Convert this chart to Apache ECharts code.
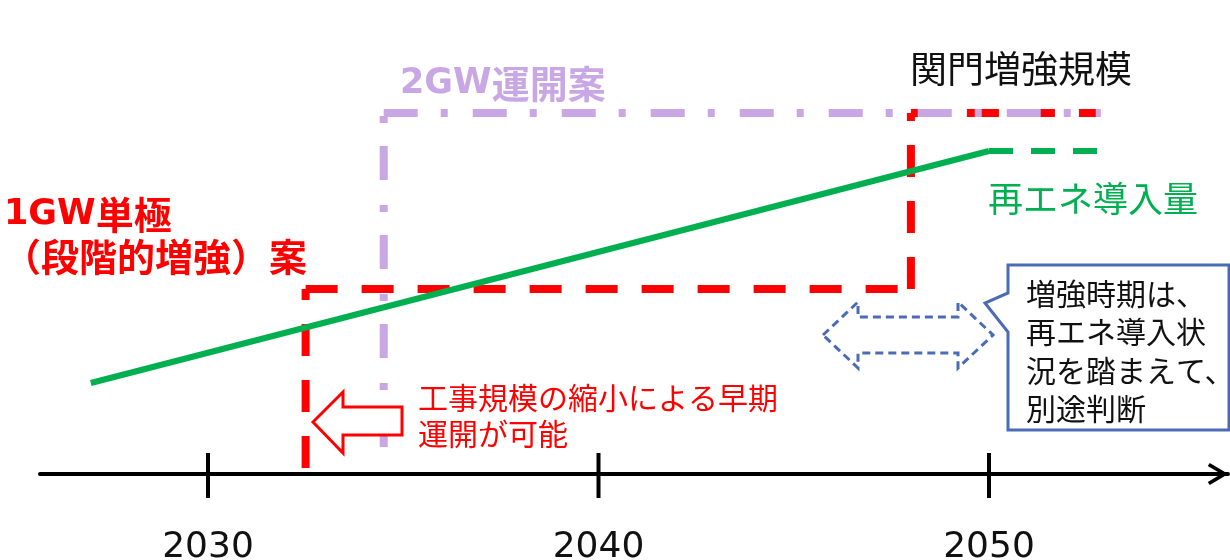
<!DOCTYPE html>
<html>
<head>
<meta charset="utf-8">
<script src="https://cdn.jsdelivr.net/npm/echarts@6/dist/echarts.min.js"></script>
<style>
  html, body { margin: 0; padding: 0; background: #ffffff; }
  #chart { width: 1230px; height: 560px; }
</style>
</head>
<body>
<div id="chart"></div>
<script>
// Timeline years shown on the axis
const tickYears = [2030, 2040, 2050];
const tickLabels = ['2030', '2040', '2050'];

// 1GW monopole (staged reinforcement) plan: step outline, year / level
const plan1Years = [2032.5, 2032.5, 2048, 2048, 2052.85];
const plan1Levels = [1.5, 46.25, 46.25, 90.25, 90.25];

// 2GW commissioning plan: outline, year / level
const plan2Years = [2034.5, 2034.5, 2052.85];
const plan2Levels = [6.75, 90.25, 90.25];

// Renewable energy introduction: trend up to 2050, outlook after
const reYears = [2027, 2050];
const reLevels = [22.75, 80.75];
const reOutlookYears = [2050, 2052.77];
const reOutlookLevels = [80.75, 80.75];

const RED = '#FF0000';
const PURPLE = '#C9A7E4';
const GREEN = '#00B050';
const BLUE = '#4A6BB5';
const JP = '"Noto Sans CJK JP", "Noto Sans CJK SC", sans-serif';
const LATIN = '"DejaVu Sans", "Noto Sans CJK JP", sans-serif';

function pts(xs, ys) {
  return xs.map((x, i) => [x, ys[i]]);
}

// Each straight leg is drawn as its own line so the dash pattern restarts per leg
function legSeries(name, xs, ys, lineStyle, z) {
  const p = pts(xs, ys);
  const out = [];
  for (let i = 0; i < p.length - 1; i++) {
    out.push({
      name: name,
      type: 'line',
      data: [p[i], p[i + 1]],
      showSymbol: false,
      symbol: 'none',
      silent: true,
      z: z,
      lineStyle: Object.assign({ cap: 'butt', join: 'miter' }, lineStyle)
    });
  }
  return out;
}

const series = [].concat(
  legSeries('1GW単極（段階的増強）案', plan1Years, plan1Levels,
    { color: RED, width: 8, type: [32, 24] }, 2),
  legSeries('2GW運開案', plan2Years, plan2Levels,
    { color: PURPLE, width: 8, type: [34, 23, 7, 25] }, 3),
  [{
    name: '再エネ導入量',
    type: 'line',
    data: pts(reYears, reLevels),
    showSymbol: false,
    symbol: 'none',
    silent: true,
    z: 4,
    lineStyle: { color: GREEN, width: 6, cap: 'butt' }
  }, {
    name: '再エネ導入量（見通し）',
    type: 'line',
    data: pts(reOutlookYears, reOutlookLevels),
    showSymbol: false,
    symbol: 'none',
    silent: true,
    z: 4,
    lineStyle: { color: GREEN, width: 6, type: [24, 18], cap: 'butt' }
  }, {
    // tick marks crossing the time axis
    name: 'ticks',
    type: 'custom',
    coordinateSystem: 'cartesian2d',
    silent: true,
    z: 5,
    encode: { x: 0, y: 1 },
    data: tickYears.map(y => [y, 0]),
    renderItem: function (params, api) {
      const p = api.coord([api.value(0), 0]);
      return {
        type: 'line',
        shape: { x1: p[0], y1: p[1] - 21, x2: p[0], y2: p[1] + 24 },
        style: { stroke: '#000000', lineWidth: 4 }
      };
    }
  }]
);

const chart = echarts.init(document.getElementById('chart'), null, { renderer: 'canvas' });

chart.setOption({
  animation: false,
  backgroundColor: '#ffffff',
  grid: { left: 40, right: 2, top: 74, bottom: 86, containLabel: false, outerBoundsMode: 'none' },
  xAxis: {
    type: 'value',
    min: 2025.698,
    max: 2056.12,
    splitLine: { show: false },
    axisTick: { show: false },
    axisLine: {
      show: true,
      onZero: true,
      lineStyle: { color: '#000000', width: 4 },
      symbol: ['none', 'path://M11 0 L22 18.5 L19 20.5 L11 7 L3 20.5 L0 18.5 Z'],
      symbolSize: [22, 21],
      symbolOffset: [0, -10]
    },
    axisLabel: {
      customValues: tickYears,
      formatter: function (v) {
        const i = tickYears.indexOf(v);
        return i >= 0 ? tickLabels[i] : '';
      },
      fontFamily: '"DejaVu Sans", sans-serif',
      fontSize: 36,
      color: '#111111',
      margin: 56
    }
  },
  yAxis: {
    type: 'value',
    min: 0,
    max: 100,
    show: false,
    splitLine: { show: false }
  },
  series: series,
  graphic: [
    // plan titles
    {
      type: 'text', z: 30, x: 4, y: 215, silent: true,
      style: {
        text: '{l|1GW}{k|単極}',
        verticalAlign: 'middle',
        rich: {
          l: { fontFamily: LATIN, fontWeight: 'bold', fontSize: 35, fill: RED },
          k: { fontFamily: JP, fontWeight: 'bold', fontSize: 38, fill: RED }
        }
      }
    },
    {
      type: 'text', z: 30, x: 3, y: 257, silent: true,
      style: {
        text: '（段階的増強）案',
        fontFamily: JP, fontWeight: 'bold', fontSize: 38, fill: RED,
        verticalAlign: 'middle'
      }
    },
    {
      type: 'text', z: 30, x: 400, y: 84, silent: true,
      style: {
        text: '{l|2GW}{k|運開案}',
        verticalAlign: 'middle',
        rich: {
          l: { fontFamily: LATIN, fontWeight: 'bold', fontSize: 35, fill: PURPLE },
          k: { fontFamily: JP, fontWeight: 'bold', fontSize: 38, fill: PURPLE }
        }
      }
    },
    {
      type: 'text', z: 30, x: 910, y: 69, silent: true,
      style: {
        text: '関門増強規模',
        fontFamily: JP, fontSize: 37, fill: '#111111',
        verticalAlign: 'middle'
      }
    },
    {
      type: 'text', z: 30, x: 988, y: 199, silent: true,
      style: {
        text: '再エネ導入量',
        fontFamily: JP, fontSize: 35, fill: GREEN,
        verticalAlign: 'middle'
      }
    },
    // early-commissioning note with left arrow
    {
      type: 'polygon', z: 20, silent: true,
      shape: { points: [[313, 422], [343, 392], [343, 407], [402, 407], [402, 435], [343, 435], [343, 453]] },
      style: { fill: '#ffffff', stroke: RED, lineWidth: 3, lineJoin: 'miter' }
    },
    {
      type: 'text', z: 30, x: 418, y: 380, silent: true,
      style: {
        text: '工事規模の縮小による早期\n運開が可能',
        fontFamily: JP, fontSize: 30, fill: RED,
        lineHeight: 36, verticalAlign: 'top'
      }
    },
    // reinforcement timing: dashed double arrow and callout
    {
      type: 'polygon', z: 20, silent: true,
      shape: {
        points: [[823, 335], [858, 302], [858, 317], [958, 317], [958, 302], [993, 335],
                 [958, 368], [958, 353], [858, 353], [858, 368]]
      },
      style: { fill: '#ffffff', stroke: BLUE, lineWidth: 3, lineDash: [8, 5] }
    },
    {
      type: 'polygon', z: 20, silent: true,
      shape: {
        points: [[1008, 265], [1229, 265], [1229, 430], [1008, 430], [1008, 332], [985, 303], [1008, 293]]
      },
      style: { fill: '#ffffff', stroke: BLUE, lineWidth: 3, lineJoin: 'miter' }
    },
    {
      type: 'text', z: 30, x: 1026, y: 274, silent: true,
      style: {
        text: '増強時期は、\n再エネ導入状\n況を踏まえて、\n別途判断',
        fontFamily: JP, fontSize: 30, fill: '#111111',
        lineHeight: 38.5, verticalAlign: 'top'
      }
    }
  ]
});
</script>
</body>
</html>
